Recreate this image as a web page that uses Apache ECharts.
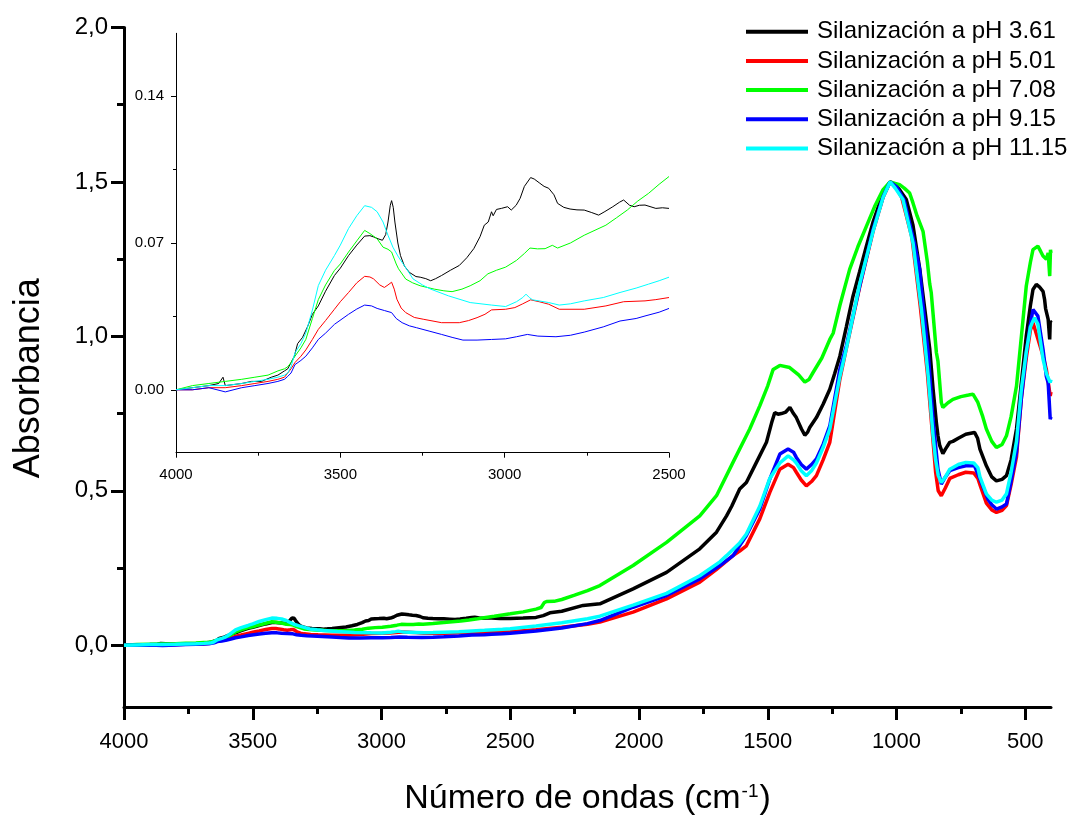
<!DOCTYPE html>
<html>
<head>
<meta charset="utf-8">
<script src="https://cdn.jsdelivr.net/npm/echarts@6/dist/echarts.min.js"></script>
<style>html,body{margin:0;padding:0;background:#fff;}#c{width:1078px;height:821px;}</style>
</head>
<body>
<div id="c"></div>
<script>
// ---- Data: [wavenumber (cm-1), absorbance] ----
const seriesNames = ['Silanización a pH 3.61','Silanización a pH 5.01','Silanización a pH 7.08','Silanización a pH 9.15','Silanización a pH 11.15'];
const seriesColors = ['#000000','#ff0000','#00ff00','#0000ff','#00ffff'];

const ph361 = [[4000,0.000],[3950,0.001],[3900,0.002],[3870,0.003],[3857,0.006],[3850,0.002],[3800,0.003],[3770,0.004],[3740,0.004],[3710,0.006],[3690,0.007],[3670,0.009],[3660,0.010],[3650,0.013],[3640,0.016],[3630,0.022],[3615,0.025],[3600,0.030],[3585,0.036],[3567,0.040],[3545,0.047],[3518,0.0545],[3500,0.058],[3475,0.064],[3450,0.069],[3426,0.0733],[3410,0.0735],[3399,0.0729],[3385,0.072],[3372,0.0713],[3362,0.074],[3355,0.080],[3348,0.088],[3344,0.0902],[3339,0.087],[3334,0.080],[3325,0.070],[3317,0.064],[3305,0.059],[3290,0.056],[3270,0.054],[3257,0.0537],[3240,0.053],[3225,0.052],[3210,0.053],[3192,0.0545],[3165,0.057],[3138,0.0593],[3115,0.063],[3094,0.0673],[3075,0.073],[3062,0.0785],[3050,0.080],[3040,0.0849],[3035,0.083],[3025,0.086],[3010,0.0865],[2991,0.0873],[2980,0.0857],[2965,0.088],[2953,0.0913],[2940,0.097],[2921,0.1012],[2910,0.1005],[2893,0.0985],[2880,0.097],[2866,0.0961],[2850,0.093],[2839,0.0889],[2820,0.087],[2801,0.0862],[2780,0.0858],[2758,0.0857],[2735,0.0845],[2714,0.0833],[2695,0.085],[2671,0.0873],[2650,0.0895],[2638,0.0905],[2620,0.088],[2606,0.0873],[2590,0.088],[2573,0.0881],[2540,0.0865],[2520,0.0868],[2500,0.0865],[2450,0.088],[2400,0.090],[2372,0.096],[2346,0.105],[2300,0.110],[2217,0.129],[2152,0.134],[2023,0.1825],[1893,0.236],[1764,0.312],[1699,0.366],[1660,0.419],[1640,0.45],[1609,0.506],[1583,0.527],[1544,0.592],[1505,0.657],[1485,0.72],[1473,0.753],[1460,0.748],[1447,0.75],[1430,0.755],[1414,0.77],[1400,0.75],[1389,0.737],[1369,0.70],[1356,0.68],[1345,0.69],[1337,0.705],[1311,0.737],[1285,0.78],[1259,0.829],[1240,0.88],[1220,0.936],[1195,1.03],[1169,1.13],[1143,1.21],[1117,1.292],[1091,1.37],[1065,1.433],[1045,1.475],[1025,1.5],[1005,1.49],[988,1.475],[962,1.443],[936,1.36],[910,1.22],[890,1.087],[871,0.96],[858,0.83],[845,0.72],[839,0.678],[832,0.646],[820,0.62],[810,0.635],[793,0.657],[781,0.66],[760,0.67],[731,0.683],[697,0.689],[685,0.67],[676,0.635],[651,0.581],[630,0.545],[612,0.532],[590,0.537],[573,0.549],[555,0.6],[534,0.70],[515,0.85],[496,1.001],[480,1.1],[470,1.152],[457,1.168],[445,1.16],[431,1.146],[425,1.12],[421,1.09],[411,1.055],[405,0.99],[403,1.05],[400,1.044]];

const ph501 = [[4000,0.000],[3950,0.000],[3900,0.001],[3850,0.001],[3800,0.002],[3760,0.003],[3720,0.004],[3690,0.005],[3670,0.006],[3660,0.008],[3650,0.010],[3638,0.013],[3620,0.016],[3605,0.019],[3585,0.024],[3567,0.0288],[3545,0.033],[3518,0.0384],[3500,0.042],[3475,0.0464],[3450,0.051],[3426,0.0541],[3410,0.0538],[3399,0.0529],[3380,0.050],[3366,0.0488],[3355,0.050],[3344,0.0513],[3336,0.048],[3328,0.0432],[3315,0.039],[3301,0.0368],[3275,0.0345],[3246,0.0336],[3192,0.032],[3138,0.032],[3110,0.033],[3084,0.0344],[3060,0.036],[3040,0.0381],[2997,0.0384],[2969,0.0392],[2945,0.041],[2921,0.0429],[2895,0.042],[2866,0.0408],[2834,0.0384],[2758,0.0384],[2692,0.040],[2638,0.042],[2573,0.0424],[2540,0.043],[2500,0.044],[2400,0.050],[2300,0.058],[2200,0.068],[2152,0.075],[2023,0.107],[1893,0.150],[1764,0.204],[1700,0.245],[1635,0.29],[1609,0.305],[1583,0.322],[1531,0.409],[1492,0.495],[1453,0.570],[1421,0.586],[1400,0.575],[1389,0.56],[1370,0.535],[1350,0.516],[1330,0.53],[1311,0.549],[1285,0.6],[1259,0.657],[1220,0.861],[1195,0.96],[1143,1.16],[1091,1.34],[1052,1.45],[1025,1.5],[1005,1.487],[980,1.45],[940,1.32],[908,1.1],[880,0.88],[862,0.7],[848,0.56],[838,0.5],[826,0.484],[810,0.51],[793,0.54],[760,0.552],[731,0.56],[700,0.558],[684,0.54],[676,0.52],[651,0.46],[630,0.438],[612,0.43],[590,0.437],[573,0.452],[555,0.52],[534,0.61],[515,0.8],[496,0.93],[480,1.02],[470,1.044],[464,1.04],[431,0.937],[418,0.893],[403,0.807],[400,0.82]];

const ph708 = [[4000,0.000],[3950,0.002],[3900,0.003],[3850,0.004],[3800,0.005],[3760,0.006],[3720,0.007],[3690,0.009],[3670,0.010],[3660,0.011],[3650,0.013],[3638,0.016],[3620,0.020],[3605,0.024],[3585,0.034],[3567,0.043],[3545,0.050],[3518,0.0569],[3500,0.060],[3475,0.0657],[3450,0.071],[3426,0.076],[3410,0.0745],[3388,0.072],[3370,0.068],[3355,0.067],[3344,0.0657],[3330,0.060],[3323,0.0577],[3301,0.0528],[3280,0.051],[3257,0.0496],[3214,0.048],[3185,0.0472],[3160,0.0468],[3130,0.048],[3105,0.0496],[3075,0.052],[3051,0.0553],[3025,0.057],[2997,0.0585],[2964,0.0617],[2940,0.065],[2923,0.0676],[2900,0.0672],[2877,0.0673],[2855,0.0689],[2839,0.0676],[2800,0.070],[2758,0.0737],[2692,0.0785],[2660,0.082],[2627,0.0857],[2595,0.090],[2562,0.0937],[2530,0.098],[2500,0.1017],[2450,0.108],[2400,0.117],[2380,0.122],[2368,0.138],[2359,0.1415],[2330,0.142],[2300,0.148],[2250,0.162],[2200,0.177],[2152,0.193],[2023,0.258],[1893,0.333],[1764,0.419],[1699,0.484],[1635,0.592],[1570,0.70],[1531,0.775],[1500,0.84],[1479,0.893],[1453,0.906],[1415,0.899],[1380,0.875],[1356,0.852],[1340,0.86],[1324,0.883],[1290,0.93],[1259,0.99],[1246,1.01],[1220,1.1],[1182,1.217],[1150,1.29],[1117,1.356],[1085,1.42],[1052,1.475],[1025,1.5],[1005,1.495],[988,1.491],[970,1.48],[949,1.464],[936,1.432],[920,1.39],[897,1.34],[880,1.24],[871,1.17],[865,1.141],[845,0.947],[839,0.92],[826,0.786],[820,0.77],[813,0.764],[800,0.785],[781,0.796],[750,0.805],[720,0.81],[703,0.813],[684,0.786],[665,0.74],[651,0.70],[630,0.66],[612,0.64],[590,0.65],[573,0.678],[555,0.74],[534,0.839],[515,1.0],[496,1.163],[480,1.24],[470,1.281],[451,1.292],[440,1.275],[431,1.26],[418,1.25],[411,1.27],[405,1.195],[402,1.28],[400,1.27]];

const ph915 = [[4000,0.000],[3950,0.000],[3900,0.001],[3850,-0.001],[3800,0.001],[3760,0.002],[3720,0.003],[3690,0.004],[3670,0.005],[3660,0.0064],[3650,0.008],[3638,0.012],[3620,0.014],[3605,0.016],[3585,0.020],[3567,0.024],[3545,0.027],[3518,0.0312],[3475,0.036],[3450,0.0385],[3426,0.0404],[3405,0.040],[3388,0.0388],[3366,0.0378],[3344,0.0368],[3330,0.034],[3312,0.032],[3290,0.0305],[3268,0.0296],[3230,0.028],[3192,0.0264],[3160,0.025],[3127,0.0237],[3084,0.0237],[3040,0.024],[2997,0.0243],[2964,0.0253],[2931,0.0264],[2899,0.0256],[2844,0.0253],[2800,0.026],[2758,0.0275],[2700,0.030],[2649,0.0328],[2600,0.034],[2573,0.0352],[2530,0.037],[2500,0.0388],[2400,0.046],[2300,0.056],[2200,0.070],[2152,0.080],[2023,0.123],[1893,0.161],[1764,0.215],[1686,0.258],[1635,0.29],[1583,0.355],[1531,0.441],[1492,0.538],[1453,0.619],[1421,0.635],[1400,0.625],[1389,0.608],[1370,0.585],[1350,0.57],[1330,0.585],[1311,0.603],[1285,0.65],[1259,0.71],[1220,0.893],[1195,0.969],[1143,1.163],[1091,1.346],[1052,1.453],[1025,1.5],[1000,1.485],[970,1.44],[930,1.30],[910,1.217],[897,1.1],[877,0.947],[858,0.73],[839,0.570],[826,0.522],[810,0.545],[793,0.565],[760,0.575],[731,0.581],[697,0.581],[676,0.538],[645,0.473],[630,0.455],[612,0.441],[590,0.448],[573,0.457],[555,0.53],[534,0.624],[515,0.8],[496,0.947],[480,1.04],[470,1.087],[451,1.066],[431,0.958],[418,0.87],[411,0.85],[403,0.732],[400,0.74]];

const ph1115 = [[4000,0.000],[3950,0.001],[3900,0.002],[3850,0.002],[3800,0.003],[3760,0.004],[3720,0.005],[3690,0.006],[3670,0.007],[3660,0.008],[3650,0.011],[3638,0.0176],[3620,0.022],[3605,0.027],[3585,0.038],[3567,0.0497],[3545,0.057],[3518,0.064],[3500,0.069],[3475,0.0769],[3450,0.083],[3426,0.0878],[3405,0.087],[3388,0.0849],[3370,0.080],[3355,0.0737],[3340,0.068],[3323,0.0633],[3300,0.058],[3279,0.0529],[3250,0.050],[3225,0.048],[3171,0.0448],[3105,0.0416],[3040,0.0404],[2997,0.0397],[2964,0.042],[2945,0.044],[2935,0.0456],[2925,0.044],[2915,0.0429],[2866,0.0416],[2834,0.0404],[2800,0.041],[2758,0.0424],[2700,0.044],[2649,0.0464],[2600,0.0485],[2562,0.0504],[2530,0.052],[2500,0.0537],[2400,0.062],[2300,0.073],[2200,0.086],[2152,0.094],[2023,0.13],[1893,0.168],[1764,0.225],[1686,0.27],[1660,0.29],[1635,0.31],[1610,0.33],[1583,0.36],[1531,0.45],[1492,0.54],[1453,0.59],[1421,0.613],[1400,0.60],[1389,0.59],[1370,0.565],[1350,0.549],[1330,0.565],[1311,0.59],[1285,0.64],[1259,0.70],[1220,0.87],[1195,0.96],[1143,1.17],[1091,1.34],[1052,1.45],[1025,1.5],[1005,1.48],[975,1.443],[936,1.303],[903,1.087],[877,0.872],[858,0.678],[848,0.6],[838,0.55],[826,0.527],[810,0.545],[793,0.57],[760,0.585],[731,0.592],[700,0.59],[684,0.575],[676,0.545],[651,0.49],[630,0.47],[612,0.463],[590,0.47],[573,0.49],[555,0.56],[534,0.66],[515,0.83],[496,0.95],[480,1.03],[470,1.05],[464,1.06],[451,1.04],[431,0.926],[418,0.88],[403,0.85],[400,0.86]];

const allData = [ph361, ph501, ph708, ph915, ph1115];

// ---- Tick values ----
const mainXMajor = [500,1000,1500,2000,2500,3000,3500,4000];
const mainXMinor = [750,1250,1750,2250,2750,3250,3750];
const mainYMajor = [0,0.5,1.0,1.5,2.0];
const mainYMinor = [0.25,0.75,1.25,1.75];
const insetXMajor = [2500,3000,3500,4000];
const insetXMinor = [2750,3250,3750];
const insetYMajor = [0,0.07,0.14];
const insetYMinor = [0.035,0.105];

const FONT = "'Liberation Sans', Arial, sans-serif";
const chart = echarts.init(document.getElementById('c'), null, {renderer:'canvas'});

function xAx(grid, min, max, ticks, tickLen, width, labelOpt, showLine, extra){
  return Object.assign({
    gridIndex: grid, type:'value', min:min, max:max, inverse:true, position:'bottom', offset:0,
    axisLine:{show:showLine, onZero:false, lineStyle:{color:'#000', width:width}},
    axisTick:{show:true, customValues:ticks, length:tickLen, lineStyle:{color:'#000', width:width}},
    axisLabel: labelOpt || {show:false},
    splitLine:{show:false}
  }, extra||{});
}
function yAx(grid, min, max, ticks, tickLen, width, labelOpt, showLine, extra){
  return Object.assign({
    gridIndex: grid, type:'value', min:min, max:max, position:'left', offset:0,
    axisLine:{show:showLine, onZero:false, lineStyle:{color:'#000', width:width}},
    axisTick:{show:true, customValues:ticks, length:tickLen, lineStyle:{color:'#000', width:width}},
    axisLabel: labelOpt || {show:false},
    splitLine:{show:false}
  }, extra||{});
}

const series = [];
allData.forEach((d,i)=>{
  series.push({name:seriesNames[i], type:'line', xAxisIndex:0, yAxisIndex:0, data:d, showSymbol:false, symbol:'none',
    lineStyle:{color:seriesColors[i], width:3.5}, itemStyle:{color:seriesColors[i]}, z:2+i});
});
allData.forEach((d,i)=>{
  series.push({name:seriesNames[i], type:'line', xAxisIndex:2, yAxisIndex:2, data:d.filter(p=>p[0]>=2500), showSymbol:false, symbol:'none',
    lineStyle:{color:seriesColors[i], width:1}, itemStyle:{color:seriesColors[i]}, z:2+i});
});

chart.setOption({
  animation:false,
  backgroundColor:'#fff',
  textStyle:{fontFamily:FONT},
  grid:[
    {left:124, top:27.5, width:927, height:681},
    {left:176, top:33.3, width:493, height:419.4}
  ],
  legend:{
    orient:'vertical', left:746, top:19.7, padding:0, icon:'rect', itemWidth:62, itemHeight:4, itemGap:5.2,
    data:seriesNames,
    textStyle:{fontFamily:FONT, fontSize:24, color:'#000', lineHeight:24, padding:[0,0,0,4]}
  },
  xAxis:[
    xAx(0,400,4000,mainXMajor,13,3,{show:true, customValues:mainXMajor, fontSize:22, color:'#000', fontFamily:FONT, margin:24, formatter:v=>String(v)}, true,
      {name:'{a|Número de ondas (cm}{s|-1}{a|)}', nameLocation:'middle', nameGap:75,
       nameTextStyle:{rich:{a:{fontSize:34, fontFamily:FONT, color:'#000'}, s:{fontSize:19, fontFamily:FONT, color:'#000', verticalAlign:'top', padding:[0,1,0,1]}}}}),
    xAx(0,400,4000,mainXMinor,7,3,null,false),
    xAx(1,2500,4000,insetXMajor,5,1,{show:true, customValues:insetXMajor, fontSize:15, color:'#000', fontFamily:FONT, margin:15, formatter:v=>String(v)}, true),
    xAx(1,2500,4000,insetXMinor,3,1,null,false)
  ],
  yAxis:[
    yAx(0,-0.2,2.0,mainYMajor,13,3,{show:true, customValues:mainYMajor, fontSize:24, color:'#000', fontFamily:FONT, margin:16,
      formatter:v=>v.toFixed(1).replace('.',',')}, true,
      {name:'Absorbancia', nameLocation:'middle', nameGap:77, nameRotate:90, nameTextStyle:{fontSize:36, fontFamily:FONT, color:'#000', padding:[0,22,0,0]}}),
    yAx(0,-0.2,2.0,mainYMinor,7,3,null,false),
    yAx(1,-0.03,0.17,insetYMajor,5,1,{show:true, customValues:insetYMajor, fontSize:15, color:'#000', fontFamily:FONT, margin:12,
      formatter:v=>v.toFixed(2)}, true),
    yAx(1,-0.03,0.17,insetYMinor,3,1,null,false)
  ],
  series:series
});
</script>
</body>
</html>
